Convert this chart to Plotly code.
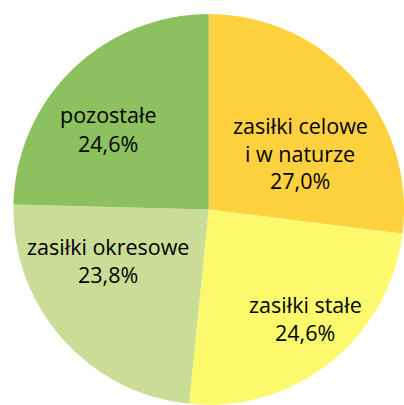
import plotly.graph_objects as go

# Shares of benefit types (%), clockwise from 12 o'clock
labels = ["zasiłki celowe i w naturze", "zasiłki stałe", "zasiłki okresowe", "pozostałe"]
label_lines = [["zasiłki celowe", "i w naturze"], ["zasiłki stałe"], ["zasiłki okresowe"], ["pozostałe"]]
values = [27.0, 24.6, 23.8, 24.6]
colors = ["#FFD13F", "#FCFA6C", "#CBDC96", "#8DC05E"]

# Label block centres (pixels from top-left of the 404x405 canvas)
label_centres = [(300, 153), (305, 318), (108, 260), (108, 129)]

W, H = 404, 405
FONT = dict(family="Open Sans, Lato, sans-serif", size=21.5, color="#000000")
LINE_STEP = 28

fig = go.Figure(
    go.Pie(
        labels=labels,
        values=values,
        sort=False,
        direction="clockwise",
        rotation=0,
        marker=dict(colors=colors, line=dict(width=0)),
        textinfo="none",
        hoverinfo="label+percent",
        domain=dict(x=[0.033, 1.0], y=[0.0, 0.966]),
    )
)

annotations = []
for lines, v, (cx, cy) in zip(label_lines, values, label_centres):
    rows = lines + [f"{v:.1f}".replace(".", ",") + "%"]
    n = len(rows)
    for i, row in enumerate(rows):
        py = cy + (i - (n - 1) / 2) * LINE_STEP
        annotations.append(
            dict(
                text=row,
                x=cx / W,
                y=1 - py / H,
                xref="paper",
                yref="paper",
                xanchor="center",
                yanchor="middle",
                showarrow=False,
                font=FONT,
            )
        )

fig.update_layout(
    width=W,
    height=H,
    margin=dict(l=0, r=0, t=0, b=0),
    showlegend=False,
    paper_bgcolor="white",
    plot_bgcolor="white",
    annotations=annotations,
)

fig.write_html("out.html")
